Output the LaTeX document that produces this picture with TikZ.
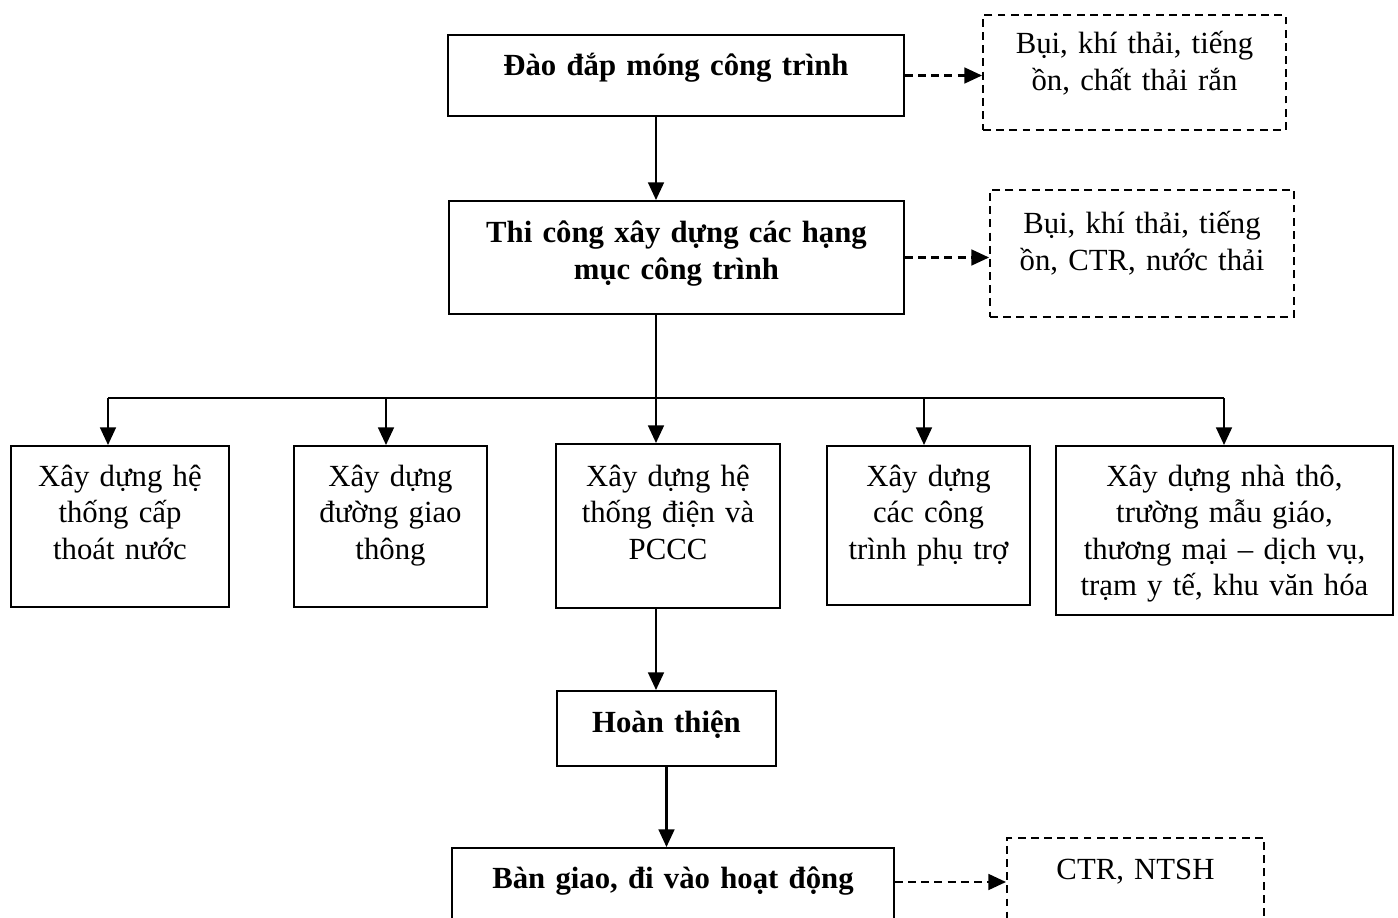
\documentclass[tikz,border=0pt]{standalone}
\usepackage{fontspec}
\setmainfont{Liberation Serif}
\usepackage{tikz}
\usetikzlibrary{arrows.meta}

\begin{document}
\begin{tikzpicture}[x=0.02cm,y=-0.02cm,
                    box/.style={draw,line width=1.15pt,anchor=north west,inner sep=0pt,align=center,
                                font=\fontsize{17.5}{20.8}\selectfont},
                    bbox/.style={box,font=\fontsize{17.5}{20.8}\selectfont\bfseries},
                    dbox/.style={box,dash pattern=on 4.5pt off 3pt},
                    arr/.style={line width=1.15pt,-{Triangle[length=10pt,width=9pt]}},
                    darr/.style={arr,dash pattern=on 4.5pt off 3pt}]
                    \clip (0,0) rectangle (1398,918);

                    \node[bbox,text width=9.12cm,text height=0.82cm,text depth=0.80cm] (dao) at (447,34) {Đào đắp móng công trình};
                    \node[dbox,text width=6.06cm,text height=0.78cm,text depth=1.52cm] (bui1) at (982,14) {Bụi, khí thải, tiếng\\ồn, chất thải rắn};

                    \node[bbox,text width=9.10cm,text height=0.84cm,text depth=1.42cm] (thi) at (448,200) {Thi công xây dựng các hạng\\mục công trình};
                    \node[dbox,text width=6.08cm,text height=0.88cm,text depth=1.66cm] (bui2) at (989,189) {Bụi, khí thải, tiếng\\ồn, CTR, nước thải};

                    \node[box,text width=4.36cm,text height=0.80cm,text depth=2.42cm] (b1) at (10,445) {Xây dựng hệ\\thống cấp\\thoát nước};
                    \node[box,text width=3.86cm,text height=0.80cm,text depth=2.42cm] (b2) at (293,445) {Xây dựng\\đường giao\\thông};
                    \node[box,text width=4.48cm,text height=0.84cm,text depth=2.44cm] (b3) at (555,443) {Xây dựng hệ\\thống điện và\\PCCC};
                    \node[box,text width=4.06cm,text height=0.80cm,text depth=2.38cm] (b4) at (826,445) {Xây dựng\\các công\\trình phụ trợ};
                    \node[box,text width=6.74cm,text height=0.80cm,text depth=2.58cm] (b5) at (1055,445) {Xây dựng nhà thô,\\trường mẫu giáo,\\thương mại – dịch vụ,\\trạm y tế, khu văn hóa};

                    \node[bbox,text width=4.38cm,text height=0.82cm,text depth=0.68cm] (ht) at (556,690) {Hoàn thiện};
                    \node[bbox,text width=8.84cm,text height=0.80cm,text depth=1.46cm] (bg) at (451,847) {Bàn giao, đi vào hoạt động};
                    \node[dbox,text width=5.14cm,text height=0.82cm,text depth=1.66cm] (ctr) at (1006,837) {CTR, NTSH};

                    % branching points
                    \coordinate (j1) at (108,398);
                    \coordinate (j2) at (386,398);
                    \coordinate (j3) at (656,398);
                    \coordinate (j4) at (924,398);
                    \coordinate (j5) at (1224,398);
                    \coordinate (bgr) at ([yshift=-0.7cm]bg.north east);

                    \draw[arr] (dao.south -| j3) -- (thi.north -| j3);
                    \draw[line width=1.15pt] (thi.south -| j3) -- (j3);
                    \draw[line width=1.15pt] (j1) -- (j5);
                    \draw[arr] (j1) -- (j1 |- b1.north);
                    \draw[arr] (j2) -- (j2 |- b2.north);
                    \draw[arr] (j3) -- (j3 |- b3.north);
                    \draw[arr] (j4) -- (j4 |- b4.north);
                    \draw[arr] (j5) -- (j5 |- b5.north);

                    \draw[arr] (b3.south -| j3) -- (ht.north -| j3);
                    \draw[arr] (ht.south) -- (ht.south |- bg.north);

                    \draw[darr] (dao.east) -- (dao.east -| bui1.west);
                    \draw[darr] (thi.east) -- (thi.east -| bui2.west);
                    \draw[darr] (bgr) -- (bgr -| ctr.west);
                \end{tikzpicture}
\end{document}
